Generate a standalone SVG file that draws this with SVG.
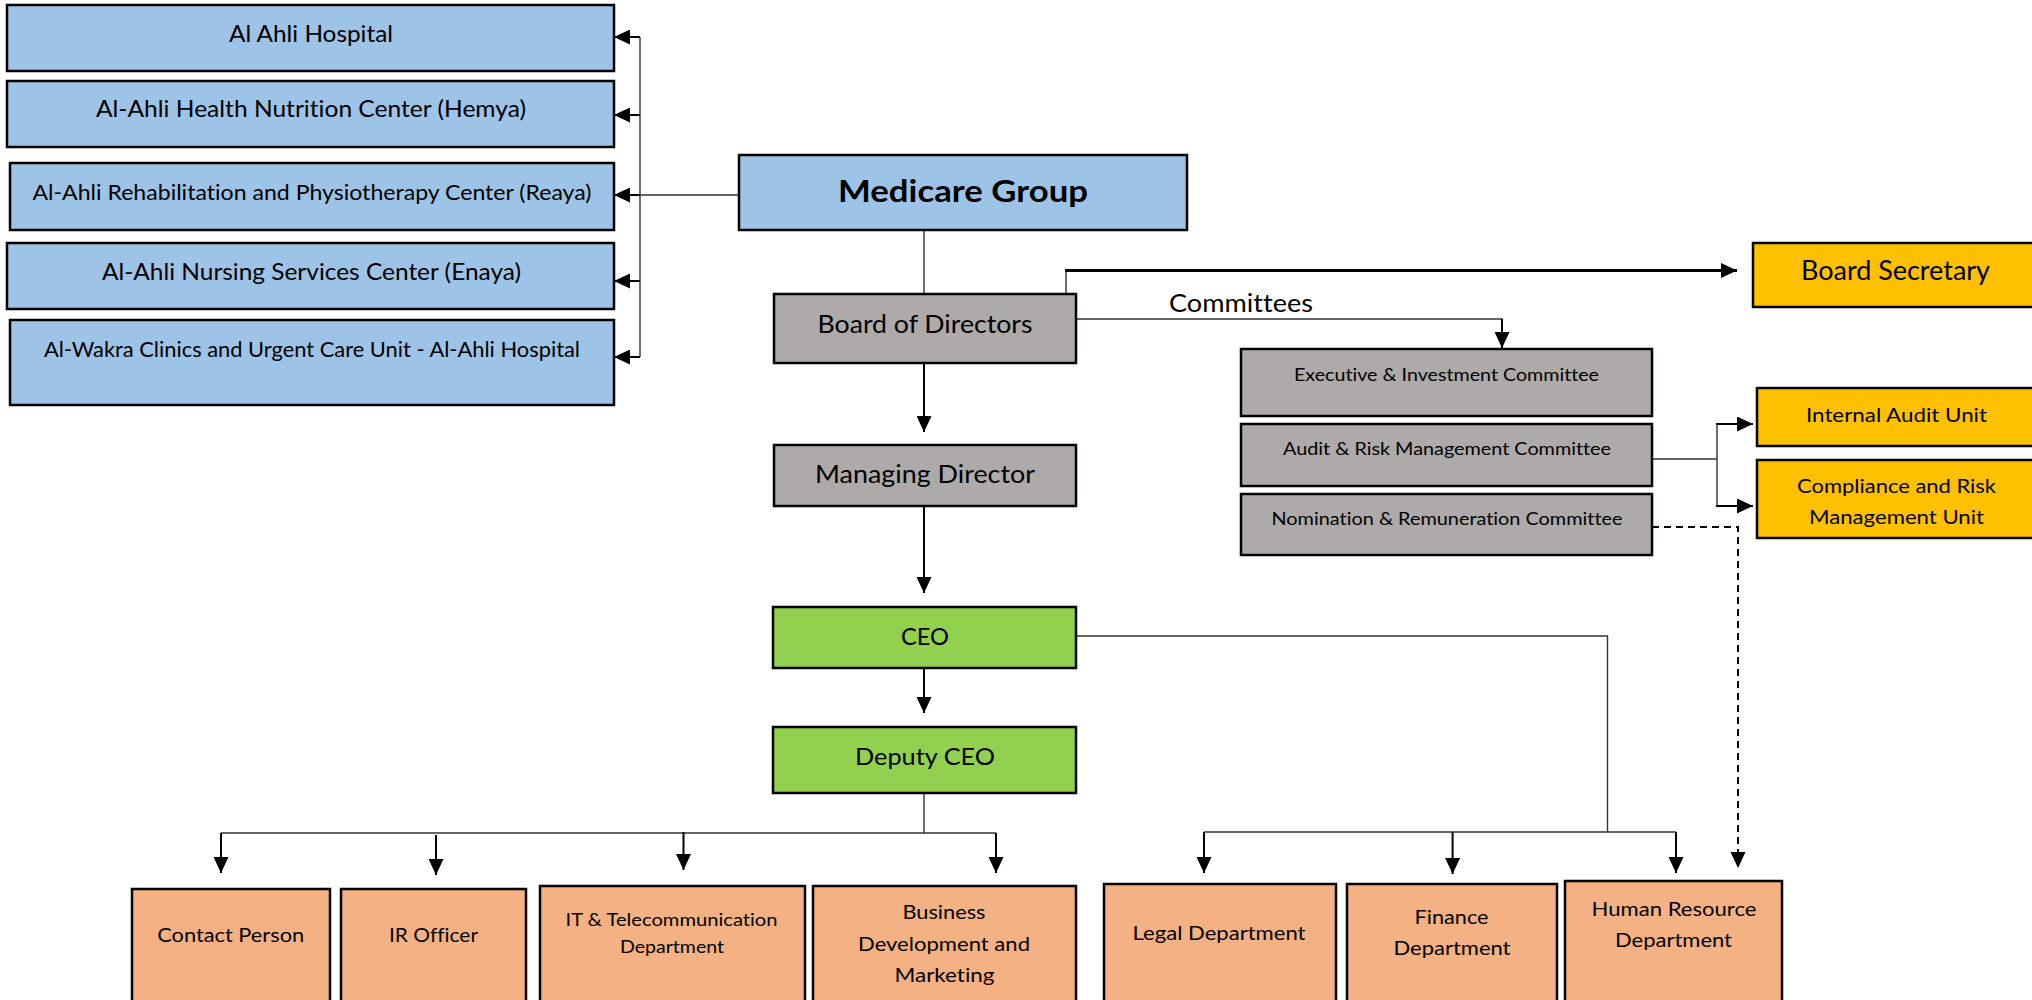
<svg xmlns="http://www.w3.org/2000/svg" width="2032" height="1000" viewBox="0 0 2032 1000">
<defs>
<style>
.box{stroke:#000;stroke-width:2.5}
.blue{fill:#9DC3E6}.gray{fill:#AEAAAA}.yel{fill:#FFC000}.grn{fill:#92D050}.sal{fill:#F4B183}
text{font-family:Lato,"Open Sans","Liberation Sans",sans-serif;fill:#000;text-anchor:middle;font-variant-ligatures:none}
.thin{fill:none;stroke:#333;stroke-width:1.4}
.arr{fill:none;stroke:#000;stroke-width:2;marker-end:url(#ah)}
.thick{fill:none;stroke:#000;stroke-width:3.2;marker-end:url(#ah)}
.dash{fill:none;stroke:#000;stroke-width:2;stroke-dasharray:7 5}
</style>
<marker id="ah" markerUnits="userSpaceOnUse" markerWidth="16" markerHeight="15" refX="16" refY="7.5" orient="auto"><path d="M0,0L16,7.5L0,15z" fill="#000"/></marker>
</defs>
<rect width="2032" height="1000" fill="#fff"/>
<g id="connectors">
<path class="thin" d="M739,195H640M640,37V357"/>
<path class="arr" d="M640,37H614"/>
<path class="arr" d="M640,115H614"/>
<path class="arr" d="M640,195H614"/>
<path class="arr" d="M640,281H614"/>
<path class="arr" d="M640,357H614"/>
<path class="thin" d="M924,230V294"/>
<path class="thin" d="M1066,294V270"/>
<path class="thick" d="M1065,270.5H1737"/>
<path class="thin" d="M1076,319H1502V330"/>
<path class="arr" d="M1502,319V348"/>
<path class="arr" d="M924,364V432"/>
<path class="arr" d="M924,506V593"/>
<path class="arr" d="M924,668V713"/>
<path class="thin" d="M924,793V833M221,833H996"/>
<path class="arr" d="M221,833V873"/>
<path class="arr" d="M436,835V875"/>
<path class="arr" d="M683.5,832V870"/>
<path class="arr" d="M996,833V873"/>
<path class="thin" d="M1076,636H1607.5V832M1204,832H1676"/>
<path class="arr" d="M1204,832V873"/>
<path class="arr" d="M1452.6,832V874"/>
<path class="arr" d="M1676,832V873"/>
<path class="thin" d="M1652,459H1717M1717,424V506"/>
<path class="arr" d="M1716,424H1753"/>
<path class="arr" d="M1716,506H1753"/>
<path class="dash" d="M1652,527H1738V852"/>
<path d="M1730.5,852L1745.5,852L1738,868z" fill="#000"/>
</g>
<g id="n-alahli"><rect class="box blue" x="7" y="5" width="607" height="66"/><text x="311" y="42" font-size="23" textLength="164" lengthAdjust="spacingAndGlyphs">Al Ahli Hospital</text></g>
<g id="n-hemya"><rect class="box blue" x="7" y="81" width="607" height="66"/><text x="311" y="117" font-size="23" textLength="430" lengthAdjust="spacingAndGlyphs">Al-Ahli Health Nutrition Center (Hemya)</text></g>
<g id="n-reaya"><rect class="box blue" x="10" y="163" width="604" height="67"/><text x="312" y="200" font-size="21" textLength="559" lengthAdjust="spacingAndGlyphs">Al-Ahli Rehabilitation and Physiotherapy Center (Reaya)</text></g>
<g id="n-enaya"><rect class="box blue" x="7" y="243" width="607" height="66"/><text x="311.5" y="280" font-size="23" textLength="419" lengthAdjust="spacingAndGlyphs">Al-Ahli Nursing Services Center (Enaya)</text></g>
<g id="n-wakra"><rect class="box blue" x="10" y="320" width="604" height="85"/><text x="312" y="357" font-size="21" textLength="536" lengthAdjust="spacingAndGlyphs">Al-Wakra Clinics and Urgent Care Unit - Al-Ahli Hospital</text></g>
<g id="n-medicare"><rect class="box blue" x="739" y="155" width="448" height="75"/><text x="963" y="202" font-size="30" font-weight="bold" textLength="250" lengthAdjust="spacingAndGlyphs">Medicare Group</text></g>
<g id="n-bod"><rect class="box gray" x="774" y="294" width="302" height="69"/><text x="925" y="333" font-size="25" textLength="215" lengthAdjust="spacingAndGlyphs">Board of Directors</text></g>
<g id="n-committees-label"><text x="1241" y="312" font-size="25" textLength="144" lengthAdjust="spacingAndGlyphs">Committees</text></g>
<g id="n-md"><rect class="box gray" x="774" y="445" width="302" height="61"/><text x="925" y="483" font-size="25" textLength="220" lengthAdjust="spacingAndGlyphs">Managing Director</text></g>
<g id="n-bos"><rect class="box yel" x="1753" y="243" width="290" height="64"/><text x="1895.5" y="280" font-size="26" textLength="189" lengthAdjust="spacingAndGlyphs">Board Secretary</text></g>
<g id="n-exec"><rect class="box gray" x="1241" y="349" width="411" height="67"/><text x="1446.5" y="381" font-size="18" textLength="305" lengthAdjust="spacingAndGlyphs">Executive &amp; Investment Committee</text></g>
<g id="n-audit"><rect class="box gray" x="1241" y="424" width="411" height="62"/><text x="1447" y="455" font-size="18" textLength="328" lengthAdjust="spacingAndGlyphs">Audit &amp; Risk Management Committee</text></g>
<g id="n-nom"><rect class="box gray" x="1241" y="494" width="411" height="61"/><text x="1447" y="525" font-size="18" textLength="351" lengthAdjust="spacingAndGlyphs">Nomination &amp; Remuneration Committee</text></g>
<g id="n-iau"><rect class="box yel" x="1757" y="388" width="290" height="58"/><text x="1896.5" y="422" font-size="19.5" textLength="181" lengthAdjust="spacingAndGlyphs">Internal Audit Unit</text></g>
<g id="n-crmu"><rect class="box yel" x="1757" y="460" width="290" height="78"/><text x="1896.5" y="493" font-size="19.5" textLength="199" lengthAdjust="spacingAndGlyphs">Compliance and Risk</text><text x="1896.5" y="524" font-size="19.5" textLength="175" lengthAdjust="spacingAndGlyphs">Management Unit</text></g>
<g id="n-ceo"><rect class="box grn" x="773" y="607" width="303" height="61"/><text x="925" y="645" font-size="24" textLength="48" lengthAdjust="spacingAndGlyphs">CEO</text></g>
<g id="n-deputy"><rect class="box grn" x="773" y="727" width="303" height="66"/><text x="925" y="765" font-size="24" textLength="140" lengthAdjust="spacingAndGlyphs">Deputy CEO</text></g>
<g id="n-contact"><rect class="box sal" x="132" y="889" width="198" height="130"/><text x="230.7" y="942" font-size="19.5" textLength="147" lengthAdjust="spacingAndGlyphs">Contact Person</text></g>
<g id="n-ir"><rect class="box sal" x="341" y="889" width="185" height="130"/><text x="433.5" y="942" font-size="19.5" textLength="89" lengthAdjust="spacingAndGlyphs">IR Officer</text></g>
<g id="n-it"><rect class="box sal" x="540" y="886" width="265" height="130"/><text x="671.5" y="926" font-size="17" textLength="212" lengthAdjust="spacingAndGlyphs">IT &amp; Telecommunication</text><text x="672" y="953" font-size="17" textLength="104" lengthAdjust="spacingAndGlyphs">Department</text></g>
<g id="n-busdev"><rect class="box sal" x="813" y="886" width="263" height="130"/><text x="944" y="919" font-size="20" textLength="83" lengthAdjust="spacingAndGlyphs">Business</text><text x="944" y="950.5" font-size="20" textLength="172" lengthAdjust="spacingAndGlyphs">Development and</text><text x="944.5" y="982" font-size="20" textLength="100" lengthAdjust="spacingAndGlyphs">Marketing</text></g>
<g id="n-legal"><rect class="box sal" x="1104" y="884" width="232" height="130"/><text x="1219" y="940" font-size="20" textLength="173" lengthAdjust="spacingAndGlyphs">Legal Department</text></g>
<g id="n-finance"><rect class="box sal" x="1347" y="884" width="210" height="130"/><text x="1451.5" y="924" font-size="20" textLength="74" lengthAdjust="spacingAndGlyphs">Finance</text><text x="1452" y="955" font-size="20" textLength="117" lengthAdjust="spacingAndGlyphs">Department</text></g>
<g id="n-hr"><rect class="box sal" x="1565" y="881" width="217" height="130"/><text x="1674" y="916" font-size="20" textLength="165" lengthAdjust="spacingAndGlyphs">Human Resource</text><text x="1673.5" y="947" font-size="20" textLength="117" lengthAdjust="spacingAndGlyphs">Department</text></g>
</svg>
